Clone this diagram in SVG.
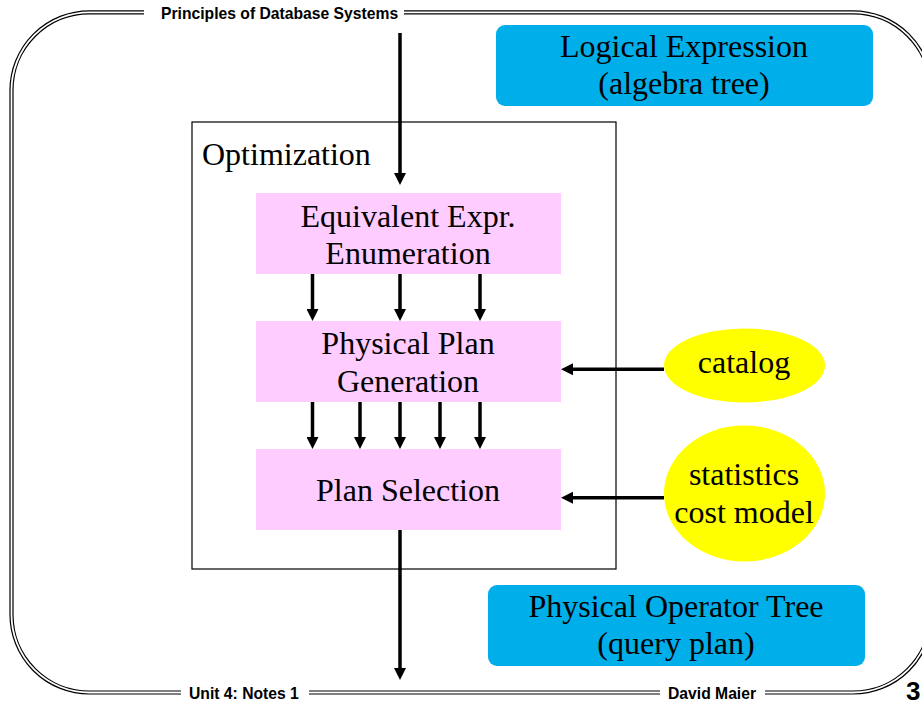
<svg xmlns="http://www.w3.org/2000/svg" width="922" height="706" viewBox="0 0 922 706">
  <style>
    .frame-outer { fill: none; stroke: #000; stroke-width: 4.2; }
    .frame-inner { fill: none; stroke: #fff; stroke-width: 1.8; }
    .gap { fill: #fff; }
    .hdr { font-family: "Liberation Sans", Arial, sans-serif; font-weight: bold; font-size: 15.7px; fill: #000; }
    .pagenum { font-family: "Liberation Sans", Arial, sans-serif; font-weight: bold; font-size: 26px; fill: #000; }
    .lbl { font-family: "Liberation Serif", "Times New Roman", serif; font-size: 32px; fill: #000; text-anchor: middle; }
    .step { fill: #FFCCFF; }
    .io { fill: #00AEEA; }
    .src { fill: #FFFF00; }
    .wire { stroke: #000; stroke-width: 3.5; fill: none; }
  </style>
  <defs>
    <marker id="head" markerUnits="userSpaceOnUse" markerWidth="12" markerHeight="12" viewBox="0 0 12 12" refX="4" refY="6" orient="auto">
      <path d="M0,0 L12,6 L0,12 z" fill="#000"/>
    </marker>
  </defs>

  <!-- slide frame: double rule with rounded corners -->
  <g id="frame">
    <rect class="frame-outer" x="11.5" y="12.3" width="919.5" height="680.2" rx="78" ry="78"/>
    <rect class="frame-inner" x="11.5" y="12.3" width="919.5" height="680.2" rx="78" ry="78"/>
    <rect class="gap" x="144" y="4" width="260" height="18"/>
    <rect class="gap" x="181" y="684" width="128" height="20"/>
    <rect class="gap" x="660" y="684" width="105" height="20"/>
    <text class="hdr" x="161" y="18.5">Principles of Database Systems</text>
    <text class="hdr" x="189" y="699">Unit 4: Notes 1</text>
    <text class="hdr" x="668" y="699">David Maier</text>
    <text class="pagenum" x="906" y="699.5">3</text>
  </g>

  <!-- optimizer container -->
  <g id="optimization">
    <rect x="192" y="122" width="424" height="447" fill="none" stroke="#000" stroke-width="1.2"/>
    <text class="lbl" x="202" y="165" style="text-anchor:start">Optimization</text>
  </g>

  <g id="enumeration">
    <rect class="step" x="256" y="193" width="305" height="81"/>
    <text class="lbl" x="408" y="227">Equivalent Expr.</text>
    <text class="lbl" x="408" y="264">Enumeration</text>
  </g>

  <g id="plan-generation">
    <rect class="step" x="256" y="321" width="305" height="81"/>
    <text class="lbl" x="408" y="354">Physical Plan</text>
    <text class="lbl" x="408" y="392">Generation</text>
  </g>

  <g id="plan-selection">
    <rect class="step" x="256" y="449" width="305" height="81"/>
    <text class="lbl" x="408" y="501">Plan Selection</text>
  </g>

  <g id="logical-expression">
    <rect class="io" x="496" y="25" width="377" height="81" rx="9" ry="9"/>
    <text class="lbl" x="684" y="57">Logical Expression</text>
    <text class="lbl" x="684" y="94">(algebra tree)</text>
  </g>

  <g id="physical-tree">
    <rect class="io" x="488" y="585" width="377" height="81" rx="9" ry="9"/>
    <text class="lbl" x="676" y="617">Physical Operator Tree</text>
    <text class="lbl" x="676" y="654">(query plan)</text>
  </g>

  <g id="catalog">
    <ellipse class="src" cx="744.5" cy="365.5" rx="80.5" ry="37"/>
    <text class="lbl" x="744" y="373">catalog</text>
  </g>

  <g id="statistics">
    <ellipse class="src" cx="744.5" cy="493.5" rx="80.5" ry="68"/>
    <text class="lbl" x="744" y="485">statistics</text>
    <text class="lbl" x="744" y="523">cost model</text>
  </g>

  <!-- flow arrows -->
  <g id="connectors">
    <line class="wire" x1="400" y1="33" x2="400" y2="177" marker-end="url(#head)"/>
    <line class="wire" x1="312.5" y1="274" x2="312.5" y2="313" marker-end="url(#head)"/>
    <line class="wire" x1="400" y1="274" x2="400" y2="313" marker-end="url(#head)"/>
    <line class="wire" x1="480" y1="274" x2="480" y2="313" marker-end="url(#head)"/>
    <line class="wire" x1="312.5" y1="402" x2="312.5" y2="441" marker-end="url(#head)"/>
    <line class="wire" x1="360" y1="402" x2="360" y2="441" marker-end="url(#head)"/>
    <line class="wire" x1="400" y1="402" x2="400" y2="441" marker-end="url(#head)"/>
    <line class="wire" x1="440" y1="402" x2="440" y2="441" marker-end="url(#head)"/>
    <line class="wire" x1="480" y1="402" x2="480" y2="441" marker-end="url(#head)"/>
    <line class="wire" x1="400" y1="530" x2="400" y2="672" marker-end="url(#head)"/>
    <line class="wire" x1="664" y1="369.3" x2="569" y2="369.3" marker-end="url(#head)"/>
    <line class="wire" x1="664" y1="497.7" x2="569" y2="497.7" marker-end="url(#head)"/>
  </g>
</svg>
